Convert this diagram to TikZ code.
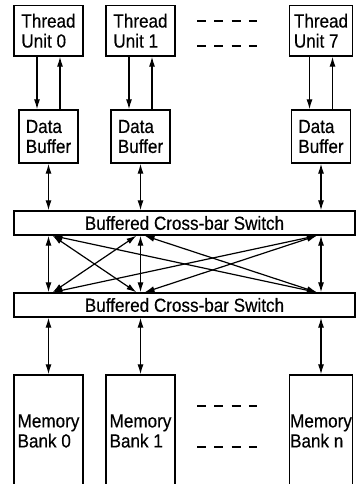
\documentclass[tikz,border=0pt]{standalone}
\usepackage{fontspec}
\setmainfont{Liberation Sans}[FakeStretch=0.9,FakeBold=0.4]
\usetikzlibrary{arrows.meta}

\begin{document}
\begin{tikzpicture}[x=1pt,y=-1pt,
  blk/.style={draw, line width=1.3pt, align=left, inner sep=0pt, font=\fontsize{19}{20}\selectfont},
  lnk/.style={line width=1.2pt, -{Latex[length=10pt,width=6pt]}},
  dlnk/.style={line width=1.2pt, {Latex[length=10pt,width=6pt]}-{Latex[length=10pt,width=6pt]}},
  gap/.style={line width=1.3pt, dash pattern=on 9pt off 8.3pt}]

\useasboundingbox (0,0) rectangle (357,484);
\clip (0,0) rectangle (357,484);

\node[blk, minimum width=341pt, minimum height=24pt] (sw1) at (184.5,223) {Buffered Cross-bar Switch};
\node[blk, minimum width=341pt, minimum height=24pt] (sw2) at (184.5,305) {Buffered Cross-bar Switch};

\foreach \n/\cx/\w/\bk in {0/48.5/69/0, 1/140.5/69/1, 7/321/63/n} {
  \node[blk, minimum width=\w pt, minimum height=50.5pt] (tu\n) at (\cx,30.75) {Thread\\Unit \n};
  \node[blk, minimum width=59pt, minimum height=53pt] (db\n) at (\cx,136.5) {Data\\Buffer};
  \node[blk, minimum width=\w pt, minimum height=112pt] (mb\n) at (\cx,431) {Memory\\Bank \bk};
  \draw[lnk] ([xshift=-11.5pt]tu\n.south) -- ([xshift=-11.5pt]tu\n.south |- db\n.north);
  \draw[lnk] ([xshift=11.5pt]tu\n.south |- db\n.north) -- ([xshift=11.5pt]tu\n.south);
  \draw[dlnk] (db\n.south) -- (sw1.north -| db\n.south);
  \coordinate (t\n) at (sw1.south -| db\n.south);
  \coordinate (b\n) at (sw2.north -| db\n.south);
  \draw[dlnk] (t\n) -- (b\n);
  \draw[dlnk] (sw2.south -| mb\n.north) -- (mb\n.north);
}

% cross connections between the two switches
\foreach \a/\b/\sa/\sb in {0/1/4/-4, 0/7/4/-4, 1/0/-4/4, 1/7/4/-4, 7/0/-4/4, 7/1/-4/4}
\draw[dlnk] ([xshift=\sa pt]t\a) -- ([xshift=\sb pt]b\b);

\draw[gap] (197,21) -- (257,21);
\draw[gap] (197,46) -- (257,46);
\draw[gap] (197,406) -- (257,406);
\draw[gap] (197,447) -- (257,447);

\end{tikzpicture}
\end{document}
